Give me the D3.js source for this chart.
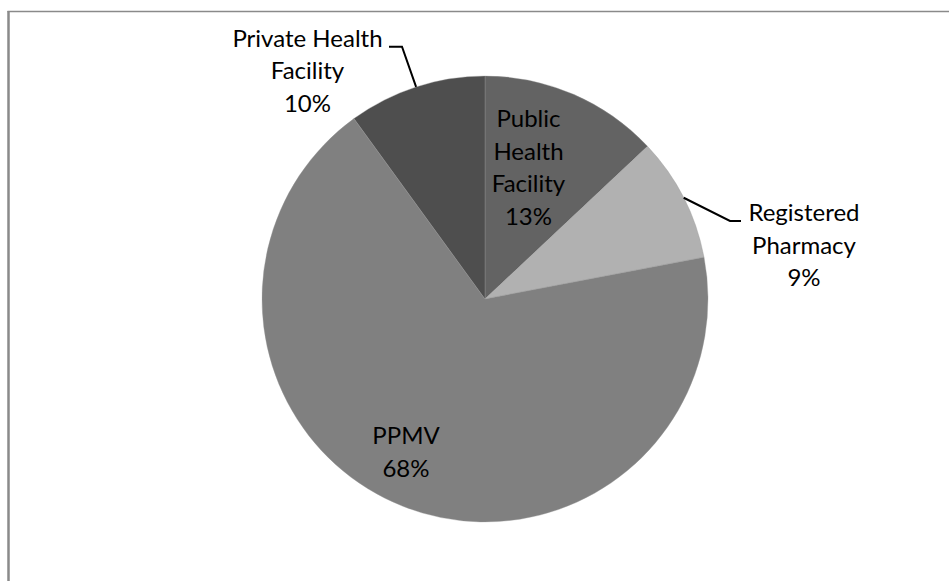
<!DOCTYPE html>
<html><head><meta charset="utf-8">
<script src="https://cdn.jsdelivr.net/npm/d3@7"></script>
<style>html,body{margin:0;padding:0;background:#fff;}svg{display:block;}</style>
</head><body>
<script>
const categories = ["Public Health Facility", "Registered Pharmacy", "PPMV", "Private Health Facility"];
const values = [13, 9, 68, 10];
const labelLines = [["Public","Health","Facility","13%"],["Registered","Pharmacy","9%"],["PPMV","68%"],["Private Health","Facility","10%"]];
const colors = ["#636363", "#b1b1b1", "#808080", "#4e4e4e"];

const W = 949, H = 581;
const cx = 485, cy = 299, R = 223;
const svg = d3.select("body").append("svg").attr("width", W).attr("height", H);

// frame
svg.append("line").attr("x1", 8.5).attr("y1", 11).attr("x2", 8.5).attr("y2", H).attr("stroke", "#8a8a8a").attr("stroke-width", 2.5);
svg.append("line").attr("x1", 7.5).attr("y1", 11.5).attr("x2", W).attr("y2", 11.5).attr("stroke", "#8a8a8a").attr("stroke-width", 1.3);

const data = categories.map((c, i) => ({c, v: values[i], lines: labelLines[i], color: colors[i]}));
const pie = d3.pie().value(d => d.v).sort(null);
const arc = d3.arc().innerRadius(0).outerRadius(R);
const arcs = pie(data);

const g = svg.append("g").attr("transform", `translate(${cx},${cy})`);
g.selectAll("path").data(arcs).enter().append("path")
  .attr("d", arc).attr("fill", d => d.data.color)
  .attr("stroke", "#9a9a9a").attr("stroke-width", 0.6).attr("stroke-opacity", 0.6);

// label placement (center x, first baseline) in page coords
const labelPos = [[528.5, 127], [804, 221], [406, 444], [307.5, 46.7]];
const lineH = 32.5;
const fontFamily = "Lato, 'Open Sans', sans-serif";
const fontSize = 24;
arcs.forEach((a, i) => {
  const [x, y0] = labelPos[i];
  const t = svg.append("text").attr("text-anchor", "middle")
    .attr("font-family", fontFamily).attr("font-size", fontSize).attr("fill", "#000");
  a.data.lines.forEach((ln, j) => {
    t.append("tspan").attr("x", x).attr("y", y0 + j * lineH).text(ln);
  });
});

function edgePoint(angleRad) {
  return [cx + R * Math.sin(angleRad), cy - R * Math.cos(angleRad)];
}
const line = d3.line();
// Registered Pharmacy leader
const pR = edgePoint((arcs[1].startAngle + arcs[1].endAngle) / 2);
svg.append("path").attr("d", line([pR, [730, 221], [741, 221]]))
  .attr("fill", "none").attr("stroke", "#000").attr("stroke-width", 2);
// Private Health Facility leader
const pP = edgePoint((arcs[3].startAngle + arcs[3].endAngle) / 2);
svg.append("path").attr("d", line([[389, 46.7], [402, 46.7], pP]))
  .attr("fill", "none").attr("stroke", "#000").attr("stroke-width", 2);
</script>
</body></html>
